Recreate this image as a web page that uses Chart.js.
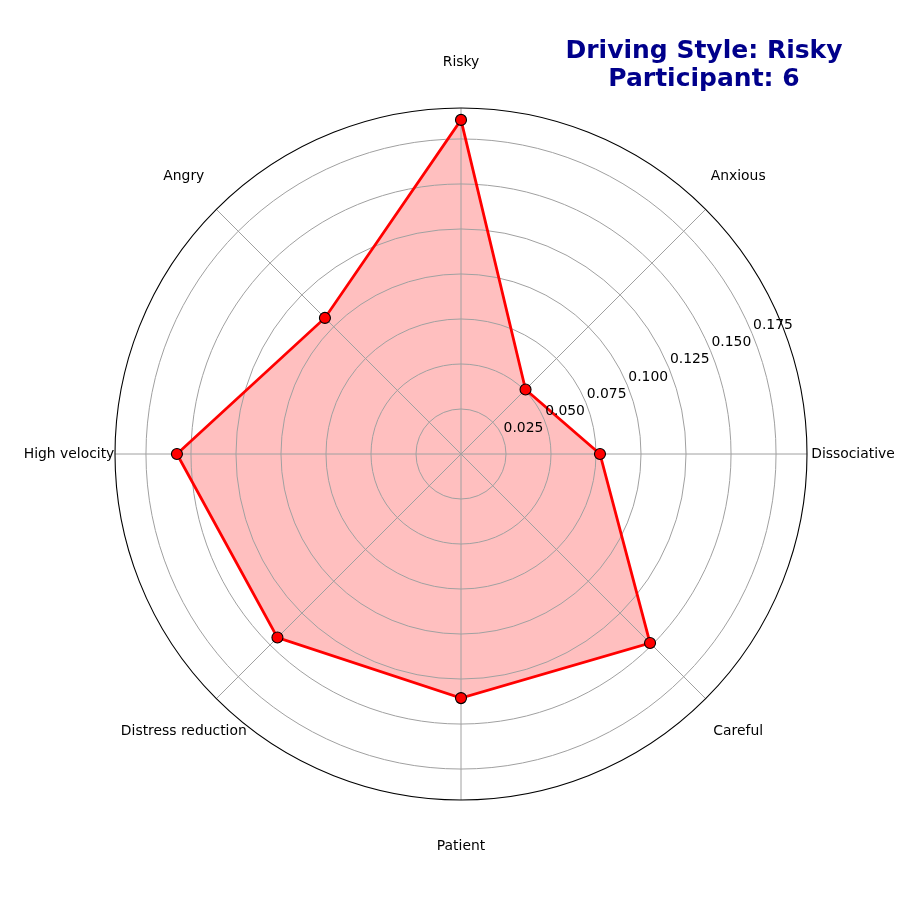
<!DOCTYPE html>
<html>
<head>
<meta charset="utf-8">
<script src="https://cdn.jsdelivr.net/npm/chart.js@4"></script>
<style>
  html, body { margin: 0; padding: 0; background: #fff; }
  #wrap { width: 900px; height: 900px; }
</style>
</head>
<body>
<div id="wrap"><canvas id="radar" width="900" height="900"></canvas></div>
<script>
// clockwise from the top
const categories = ['Risky', 'Anxious', 'Dissociative', 'Careful', 'Patient', 'Distress reduction', 'High velocity', 'Angry'];
const scores = [0.1856, 0.0507, 0.0772, 0.1485, 0.1356, 0.1442, 0.1578, 0.1069];
const tickValues = [0, 0.025, 0.05, 0.075, 0.1, 0.125, 0.15, 0.175];
const tickLabels = ['', '0.025', '0.050', '0.075', '0.100', '0.125', '0.150', '0.175'];
const rMax = 0.1922;
const titleLines = ['Driving Style: Risky', 'Participant: 6'];

const FONT = "'DejaVu Sans', sans-serif";
const GRID = '#a0a0a0';

// grid goes between the fill and the line (matplotlib zorder)
const gridPlugin = {
    id: 'gridAboveFill',
    beforeDatasetDraw(chart) {
        const ctx = chart.ctx;
        const r = chart.scales.r;
        ctx.save();
        ctx.strokeStyle = GRID;
        ctx.lineWidth = 1;
        tickValues.forEach(v => {
            if (v === 0) return;
            ctx.beginPath();
            ctx.arc(r.xCenter, r.yCenter, r.getDistanceFromCenterForValue(v), 0, Math.PI * 2);
            ctx.stroke();
        });
        categories.forEach((c, i) => {
            const p = r.getPointPosition(i, r.drawingArea);
            ctx.beginPath();
            ctx.moveTo(r.xCenter, r.yCenter);
            ctx.lineTo(p.x, p.y);
            ctx.stroke();
        });
        ctx.restore();
    }
};

// labels, tick text, outer ring and title drawn on top
const overlayPlugin = {
    id: 'overlay',
    afterDraw(chart) {
        const ctx = chart.ctx;
        const r = chart.scales.r;
        ctx.save();

        // outer circle
        ctx.beginPath();
        ctx.arc(r.xCenter, r.yCenter, r.drawingArea, 0, Math.PI * 2);
        ctx.strokeStyle = '#000';
        ctx.lineWidth = 1.1;
        ctx.stroke();

        // category labels centred on a ring outside the plot
        ctx.fillStyle = '#000';
        ctx.font = '13.9px ' + FONT;
        ctx.textAlign = 'center';
        ctx.textBaseline = 'middle';
        categories.forEach((c, i) => {
            const p = r.getPointPosition(i, r.drawingArea + 46);
            ctx.fillText(c, p.x, p.y);
        });

        // radial tick labels along 22.5 degrees
        const ang = -22.5 * Math.PI / 180;
        ctx.textAlign = 'left';
        ctx.textBaseline = 'middle';
        tickValues.forEach((v, i) => {
            if (!tickLabels[i]) return;
            const d = r.getDistanceFromCenterForValue(v);
            const x = r.xCenter + d * Math.cos(ang);
            const y = r.yCenter + d * Math.sin(ang);
            ctx.fillText(tickLabels[i], x + 1, y - 8);
        });

        // title
        ctx.fillStyle = '#00008B';
        ctx.font = 'bold 25px ' + FONT;
        ctx.textAlign = 'center';
        ctx.fillText(titleLines[0], 704, 51);
        ctx.fillText(titleLines[1], 704, 79);
        ctx.restore();
    }
};

new Chart(document.getElementById('radar'), {
    type: 'radar',
    data: {
        labels: categories,
        datasets: [{
            data: scores,
            borderColor: '#ff0000',
            borderWidth: 2.8,
            backgroundColor: 'rgba(255, 0, 0, 0.25)',
            fill: true,
            pointRadius: 5.5,
            pointBackgroundColor: '#ff0000',
            pointBorderColor: '#000',
            pointBorderWidth: 1.1,
            tension: 0
        }]
    },
    plugins: [gridPlugin, overlayPlugin],
    options: {
        responsive: false,
        animation: false,
        layout: { padding: { left: 115, right: 93, top: 108, bottom: 100 } },
        plugins: {
            legend: { display: false },
            tooltip: { enabled: false }
        },
        scales: {
            r: {
                min: 0,
                max: rMax,
                afterBuildTicks: (axis) => {
                    axis.ticks = tickValues.map(v => ({ value: v }));
                },
                grid: { display: false },
                angleLines: { display: false },
                ticks: { display: false },
                pointLabels: { display: false }
            }
        }
    }
});
</script>
</body>
</html>
